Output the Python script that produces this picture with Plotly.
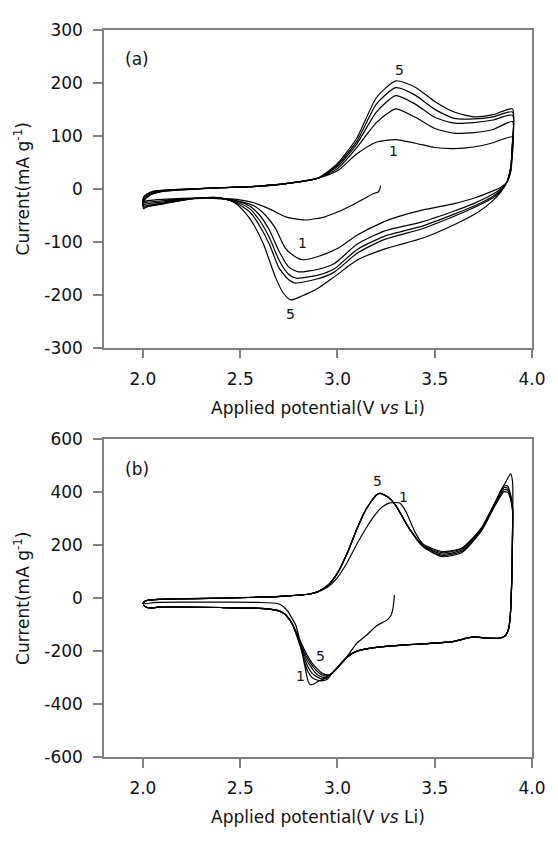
import plotly.graph_objects as go

# ---------------- Panel (a) ----------------
A_INIT_X = [3.222, 3.218, 3.21, 3.186, 3.13, 3.069, 3.0, 2.935, 2.834, 2.734, 2.65, 2.566, 2.48, 2.4, 2.3, 2.2, 2.1, 2.03]
A_INIT_Y = [6, 0, -6, -9, -20, -32, -44, -53, -59, -53, -38, -26, -20, -18, -17, -18, -20, -22]

A_AN_X = [2.0, 2.003, 2.02, 2.05, 2.1, 2.2, 2.4, 2.6, 2.8, 2.9, 3.0, 3.1, 3.2, 3.3, 3.4, 3.5, 3.6, 3.7, 3.8, 3.9]
A_AN_Y = [
    [-24, -16, -10, -5, -3, -1, 2, 5, 13, 20, 34, 66, 88, 93, 86, 78, 76, 79, 87, 98],
    [-27, -18, -12, -6, -3, -1, 2, 5, 13, 20, 38, 78, 125, 151, 135, 114, 105, 106, 112, 127],
    [-30, -20, -14, -8, -4, -1, 2, 5, 13, 20, 42, 85, 145, 176, 160, 135, 124, 125, 130, 139],
    [-33, -22, -15, -9, -5, -2, 2, 5, 13, 20, 45, 90, 160, 191, 177, 150, 133, 132, 136, 145],
    [-35, -24, -17, -10, -5, -2, 2, 5, 13, 20, 48, 96, 172, 204, 192, 165, 145, 136, 140, 151],
]

A_CA_X = [
    [3.898, 3.89, 3.87, 3.84, 3.8, 3.7, 3.6, 3.44, 3.3, 3.24, 3.1, 3.0, 2.9, 2.82, 2.77, 2.73, 2.68, 2.63, 2.57, 2.48, 2.4, 2.3, 2.2, 2.1, 2.03, 2.0],
    [3.898, 3.89, 3.87, 3.84, 3.8, 3.7, 3.6, 3.44, 3.24, 3.1, 2.985, 2.9, 2.8, 2.75, 2.7, 2.65, 2.6, 2.55, 2.48, 2.4, 2.3, 2.2, 2.1, 2.03, 2.0],
    [3.898, 3.89, 3.87, 3.84, 3.8, 3.7, 3.6, 3.44, 3.24, 3.1, 2.985, 2.9, 2.79, 2.75, 2.7, 2.65, 2.6, 2.55, 2.48, 2.4, 2.3, 2.2, 2.1, 2.03, 2.0],
    [3.898, 3.89, 3.87, 3.84, 3.8, 3.7, 3.6, 3.44, 3.24, 3.1, 2.985, 2.9, 2.78, 2.75, 2.7, 2.65, 2.6, 2.55, 2.48, 2.4, 2.3, 2.2, 2.1, 2.03, 2.0],
    [3.898, 3.89, 3.87, 3.84, 3.8, 3.72, 3.6, 3.44, 3.24, 3.1, 2.985, 2.9, 2.82, 2.76, 2.72, 2.68, 2.62, 2.57, 2.53, 2.47, 2.4, 2.3, 2.2, 2.1, 2.03, 2.0],
]
A_CA_Y = [
    [60, 30, 12, 3, -4, -18, -28, -40, -54, -62, -88, -113, -128, -134, -125, -111, -74, -50, -32, -23, -19, -18, -20, -23, -25, -27],
    [70, 35, 12, 0, -10, -28, -42, -62, -80, -105, -141, -152, -157, -148, -118, -78, -50, -33, -23, -18, -17, -20, -25, -28, -30],
    [75, 37, 12, -2, -14, -33, -48, -70, -90, -115, -151, -163, -169, -162, -135, -92, -60, -38, -25, -18, -17, -21, -27, -31, -33],
    [78, 38, 12, -4, -17, -36, -52, -75, -96, -122, -157, -170, -178, -172, -150, -105, -70, -44, -27, -17, -17, -22, -29, -33, -35],
    [80, 40, 12, -6, -22, -45, -68, -93, -114, -135, -166, -188, -202, -210, -196, -166, -105, -68, -47, -26, -17, -17, -22, -28, -33, -38],
]

# ---------------- Panel (b) ----------------
B_INIT_X = [3.293, 3.29, 3.285, 3.275, 3.255, 3.236, 3.2, 3.152, 3.1, 3.07, 3.03, 2.985, 2.935, 2.9, 2.875, 2.86,
            2.85, 2.843, 2.835, 2.826, 2.815, 2.80, 2.785, 2.767, 2.745, 2.72, 2.69, 2.6, 2.4, 2.2, 2.08, 2.03, 2.012]
B_INIT_Y = [12, -10, -40, -65, -82, -90, -105, -138, -170, -199, -240, -275, -302, -315, -325, -327,
            -315, -296, -265, -235, -185, -140, -100, -77, -50, -30, -20, -16, -15, -15, -16, -19, -21]

B_AN1_X = [2.0, 2.008, 2.03, 2.08, 2.15, 2.4, 2.6, 2.75, 2.85, 2.9, 2.95, 3.0, 3.05, 3.1, 3.15, 3.19, 3.23, 3.27, 3.32,
           3.35, 3.4, 3.44, 3.54, 3.64, 3.74, 3.81, 3.86, 3.89, 3.9]
B_AN1_Y = [-18, -12, -7, -4, -3, 1, 4, 9, 15, 24, 42, 78, 135, 205, 268, 312, 345, 360, 360,
           330, 248, 205, 176, 190, 264, 362, 432, 470, 440]

B_AN_X = [2.0, 2.008, 2.03, 2.08, 2.15, 2.4, 2.6, 2.75, 2.85, 2.9, 2.95, 3.0, 3.05, 3.1, 3.15, 3.2, 3.22, 3.26, 3.3,
          3.37, 3.44, 3.54, 3.64, 3.74, 3.81, 3.855, 3.875, 3.89, 3.9]
B_AN_Y = [
    [-22, -12, -7, -4, -3, 0, 4, 9, 15, 25, 48, 95, 170, 262, 340, 390, 396, 382, 350, 262, 200, 172, 188, 266, 362, 425, 424, 392, 345],
    [-22, -12, -7, -4, -3, 0, 4, 9, 15, 25, 48, 95, 170, 262, 340, 390, 396, 382, 350, 262, 198, 167, 183, 262, 358, 418, 416, 386, 340],
    [-22, -12, -7, -4, -3, 0, 4, 9, 15, 25, 48, 95, 170, 262, 340, 390, 396, 382, 350, 262, 196, 162, 178, 258, 354, 410, 408, 380, 335],
    [-22, -12, -7, -4, -3, 0, 4, 9, 15, 25, 48, 95, 170, 262, 340, 390, 396, 382, 350, 262, 194, 157, 173, 254, 350, 402, 400, 374, 330],
]

B_CA_X_HEAD = [3.9, 3.897, 3.893, 3.888, 3.88, 3.865, 3.84, 3.8, 3.76, 3.7, 3.66, 3.6, 3.5, 3.4, 3.3, 3.2, 3.1, 3.05, 3.0, 2.97]
B_CA_Y_HEAD = [250, 100, 0, -70, -115, -140, -150, -152, -150, -146, -152, -163, -170, -174, -179, -186, -200, -222, -262, -285]
B_DIP_X = [2.95, 2.92, 2.89, 2.87, 2.85, 2.83, 2.81, 2.79]
B_DIP_Y = [
    [-305, -312, -308, -300, -280, -240, -185, -140],
    [-300, -305, -295, -284, -262, -228, -180, -138],
    [-297, -298, -285, -266, -245, -215, -175, -136],
    [-293, -290, -272, -255, -232, -205, -170, -134],
    [-290, -283, -262, -245, -222, -195, -163, -130],
]
B_CA_X_TAIL = [2.77, 2.745, 2.72, 2.68, 2.6, 2.4, 2.2, 2.08, 2.04, 2.015, 2.003]
B_CA_Y_TAIL = [-100, -72, -55, -44, -38, -35, -34, -34, -37, -33, -26]

A_YTICKS = [-300, -200, -100, 0, 100, 200, 300]
B_YTICKS = [-600, -400, -200, 0, 200, 400, 600]
XTICKS = [2.0, 2.5, 3.0, 3.5, 4.0]

LINE = dict(color="#000000", width=1.2, shape="spline", smoothing=0.6)

fig = go.Figure()

# panel (a) traces
for k in range(5):
    xs, ys = [], []
    if k == 0:
        xs += A_INIT_X
        ys += A_INIT_Y
    xs += A_AN_X + A_CA_X[k]
    ys += A_AN_Y[k] + A_CA_Y[k]
    fig.add_trace(go.Scatter(x=xs, y=ys, mode="lines", line=LINE, xaxis="x", yaxis="y",
                             showlegend=False, hoverinfo="skip"))

# panel (b) traces
for k in range(5):
    xs, ys = [], []
    if k == 0:
        xs += B_INIT_X + B_AN1_X
        ys += B_INIT_Y + B_AN1_Y
    else:
        xs += B_AN_X
        ys += B_AN_Y[k - 1]
    xs += B_CA_X_HEAD + B_DIP_X + B_CA_X_TAIL
    ys += B_CA_Y_HEAD + B_DIP_Y[k] + B_CA_Y_TAIL
    fig.add_trace(go.Scatter(x=xs, y=ys, mode="lines", line=LINE, xaxis="x2", yaxis="y2",
                             showlegend=False, hoverinfo="skip"))

FONT = "DejaVu Sans"
TXT = "#111111"
LBL = dict(showarrow=False, font=dict(family=FONT, size=14, color=TXT))
PANEL = dict(showarrow=False, font=dict(family=FONT, size=17, color=TXT))
ann = [
    dict(x=1.97, y=245, xref="x", yref="y", text="(a)", **PANEL),
    dict(x=3.32, y=225, xref="x", yref="y", text="5", **LBL),
    dict(x=3.29, y=72, xref="x", yref="y", text="1", **LBL),
    dict(x=2.82, y=-102, xref="x", yref="y", text="1", **LBL),
    dict(x=2.76, y=-236, xref="x", yref="y", text="5", **LBL),
    dict(x=1.97, y=490, xref="x2", yref="y2", text="(b)", **PANEL),
    dict(x=3.206, y=442, xref="x2", yref="y2", text="5", **LBL),
    dict(x=3.337, y=381, xref="x2", yref="y2", text="1", **LBL),
    dict(x=2.913, y=-217, xref="x2", yref="y2", text="5", **LBL),
    dict(x=2.812, y=-294, xref="x2", yref="y2", text="1", **LBL),
]

AX = dict(showline=True, linecolor="#808080", linewidth=1.5, mirror=True, ticks="outside",
          ticklen=9, tickcolor="#808080", tickwidth=1.5, showgrid=False, zeroline=False,
          tickfont=dict(family=FONT, size=17, color=TXT))
XTITLE = "Applied potential(V <i>vs</i> Li)"
YTITLE = "Current(mA g<sup>-1</sup>)"
TFONT = dict(family=FONT, size=17, color=TXT)

fig.update_layout(
    width=550, height=828,
    margin=dict(l=96, r=16, t=14, b=63),
    paper_bgcolor="white", plot_bgcolor="white",
    annotations=ann,
    xaxis=dict(**AX, range=[1.8, 4.0], tickvals=XTICKS, ticktext=[f"{v:.1f}" for v in XTICKS],
               anchor="y", ticklabelstandoff=6, title=dict(text=XTITLE, font=TFONT, standoff=14)),
    yaxis=dict(**AX, range=[-300, 300], tickvals=A_YTICKS, ticktext=[str(v) for v in A_YTICKS],
               domain=[0.5632, 1.0], anchor="x", ticklabelstandoff=7,
               title=dict(text=YTITLE, font=TFONT, standoff=10)),
    xaxis2=dict(**AX, range=[1.8, 4.0], tickvals=XTICKS, ticktext=[f"{v:.1f}" for v in XTICKS],
                anchor="y2", ticklabelstandoff=6, title=dict(text=XTITLE, font=TFONT, standoff=14)),
    yaxis2=dict(**AX, range=[-600, 600], tickvals=B_YTICKS, ticktext=[str(v) for v in B_YTICKS],
                domain=[0.0, 0.4368], anchor="x2", ticklabelstandoff=7,
                title=dict(text=YTITLE, font=TFONT, standoff=10)),
)

fig.write_html("out.html")
